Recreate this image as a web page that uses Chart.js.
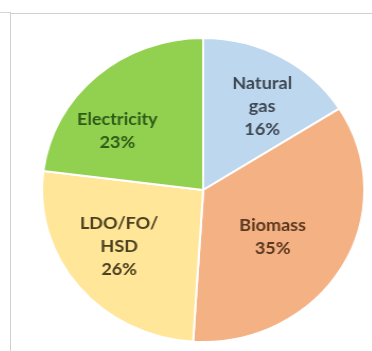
<!DOCTYPE html>
<html>
<head>
<meta charset="utf-8">
<script src="https://cdn.jsdelivr.net/npm/chart.js@4"></script>
<style>
  html, body { margin: 0; padding: 0; background: #fff; width: 372px; height: 351px; overflow: hidden; }
  #stub { position: absolute; left: 0; top: 12px; width: 10px; height: 0; border-top: 1px solid #d6d6d6; }
  #frame { position: absolute; left: 10px; top: 12px; width: 362px; height: 345px;
           border-left: 1px solid #d0d0d0; }
  #topline { position: absolute; left: 11px; top: 13px; width: 361px; height: 0; border-top: 1px solid #d0d0d0; }
  #wrap { position: absolute; left: 41px; top: 37px; width: 306px; height: 306px;
          transform: scaleX(1.06); transform-origin: 0 0; }
</style>
</head>
<body>
<div id="stub"></div>
<div id="frame"></div>
<div id="topline"></div>
<div id="wrap"><canvas id="c" width="306" height="306"></canvas></div>
<script>
// Energy mix by fuel, share in percent
const categories = [['Natural', 'gas'], ['Biomass'], ['LDO/FO/', 'HSD'], ['Electricity']];
const shares = [16, 35, 26, 23];

const fillColors = ['#bdd7ee', '#f4b183', '#ffe699', '#92d050'];
const textColors = ['#3e4853', '#5a381f', '#4b4020', '#2e5c18'];

// label placement inside each slice: radial fraction and angular nudge (degrees)
const labelRadius = [0.66, 0.53, 0.64, 0.66];
const labelTurn = [4.9, 4.9, 4.2, -12.4];

const sliceLabels = {
  id: 'sliceLabels',
  afterDatasetsDraw(chart) {
    const ctx = chart.ctx;
    const meta = chart.getDatasetMeta(0);
    const values = chart.data.datasets[0].data;
    ctx.save();
    ctx.font = 'bold 17px Lato, "Open Sans", sans-serif';
    ctx.textAlign = 'center';
    ctx.textBaseline = 'middle';
    const lineH = 23;
    meta.data.forEach((arc, i) => {
      const p = arc.getProps(['x', 'y', 'startAngle', 'endAngle', 'outerRadius'], true);
      const mid = (p.startAngle + p.endAngle) / 2 + labelTurn[i] * Math.PI / 180;
      const r = p.outerRadius * labelRadius[i];
      const cx = p.x + Math.cos(mid) * r;
      const cy = p.y + Math.sin(mid) * r;
      const lines = [...chart.data.labels[i], values[i] + '%'];
      const top = cy - (lines.length - 1) * lineH / 2;
      ctx.fillStyle = textColors[i];
      lines.forEach((t, k) => ctx.fillText(t, cx, top + k * lineH));
    });
    ctx.restore();
  }
};

new Chart(document.getElementById('c'), {
  type: 'pie',
  data: {
    labels: categories,
    datasets: [{
      data: shares,
      backgroundColor: fillColors,
      borderColor: '#ffffff',
      borderWidth: 2
    }]
  },
  options: {
    responsive: false,
    animation: false,
    layout: { padding: 0 },
    plugins: { legend: { display: false }, tooltip: { enabled: false } }
  },
  plugins: [sliceLabels]
});
</script>
</body>
</html>
